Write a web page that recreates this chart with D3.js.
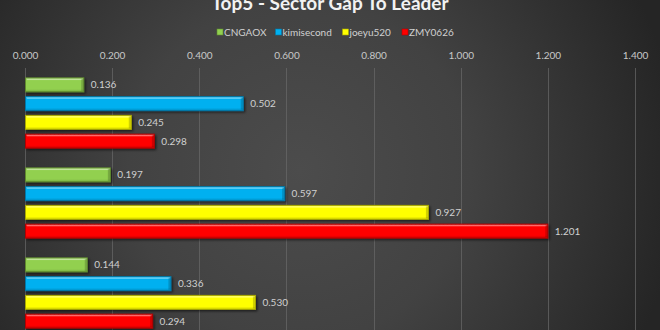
<!DOCTYPE html>
<html><head><meta charset="utf-8">
<script src="https://cdn.jsdelivr.net/npm/d3@7"></script>
<style>html,body{margin:0;padding:0;background:#2a2a2a;}svg{display:block;}</style>
</head><body>
<script>
const categories = ["Sector 1", "Sector 2", "Sector 3"];
const seriesNames = ["CNGAOX", "kimisecond", "joeyu520", "ZMY0626"];
const CNGAOX = [0.136, 0.197, 0.144];
const kimisecond = [0.502, 0.597, 0.336];
const joeyu520 = [0.245, 0.927, 0.530];
const ZMY0626 = [0.298, 1.201, 0.294];
const seriesValues = [CNGAOX, kimisecond, joeyu520, ZMY0626];
const tickValues = [0, 0.2, 0.4, 0.6, 0.8, 1.0, 1.2, 1.4];
const colors = ["#92d050", "#00b0f0", "#ffff00", "#ff0000"];
const edgeColors = ["#5e8a2e", "#0078a8", "#a8a800", "#b00000"];
const title = "Top5 - Sector Gap To Leader";

const W = 660, H = 330;
const svg = d3.select("body").append("svg").attr("width", W).attr("height", H);
const defs = svg.append("defs");
const bg = defs.append("radialGradient").attr("id", "bg")
  .attr("gradientUnits", "userSpaceOnUse").attr("cx", 300).attr("cy", 170).attr("r", 380);
bg.append("stop").attr("offset", "0%").attr("stop-color", "#4c4c4c");
bg.append("stop").attr("offset", "45%").attr("stop-color", "#424242");
bg.append("stop").attr("offset", "100%").attr("stop-color", "#252525");
svg.append("rect").attr("width", W).attr("height", H).attr("fill", "url(#bg)");

colors.forEach((c, i) => {
  const g = defs.append("linearGradient").attr("id", "bar" + i).attr("x1", 0).attr("y1", 0).attr("x2", 0).attr("y2", 1);
  const cc = d3.color(c);
  g.append("stop").attr("offset", "0%").attr("stop-color", d3.interpolateRgb(c, "#ffffff")(0.35));
  g.append("stop").attr("offset", "18%").attr("stop-color", c);
  g.append("stop").attr("offset", "80%").attr("stop-color", c);
  g.append("stop").attr("offset", "100%").attr("stop-color", cc.darker(0.6).formatHex());
});
const sh = defs.append("filter").attr("id", "shadow").attr("x", "-5%").attr("y", "-30%").attr("width", "115%").attr("height", "180%");
sh.append("feDropShadow").attr("dx", 1.5).attr("dy", 1.5).attr("stdDeviation", 1.2).attr("flood-color", "#000").attr("flood-opacity", 0.55);

const x = d3.scaleLinear().domain([0, 1.4]).range([25, 635]);
const y0 = d3.scaleBand().domain(categories).range([68, 338]).paddingInner(0).paddingOuter(0);
const y1 = d3.scaleBand().domain(seriesNames).range([0, y0.bandwidth()]).paddingInner(0.2).paddingOuter(0.5);

// gridlines
svg.append("g").selectAll("line").data(tickValues).join("line")
  .attr("x1", d => Math.round(x(d)) + 0.5).attr("x2", d => Math.round(x(d)) + 0.5)
  .attr("y1", 68).attr("y2", 338)
  .attr("stroke", "#6a6a6a").attr("stroke-width", 1).attr("stroke-opacity", 0.7);

// top axis
const axis = d3.axisTop(x).tickValues(tickValues).tickFormat(d3.format(".3f")).tickSize(0).tickPadding(0);
const ax = svg.append("g").attr("transform", "translate(0,59)").call(axis);
ax.select(".domain").remove();
ax.selectAll("text").attr("fill", "#c8c8c8").attr("font-family", "Lato, sans-serif").attr("font-size", 10);

// title
svg.append("text").attr("x", 330).attr("y", 9.5).attr("text-anchor", "middle")
  .attr("fill", "#f2f2f2").attr("font-family", "Lato, sans-serif").attr("font-weight", "bold")
  .attr("font-size", 19).text(title);

// legend
const legendX = [217, 275.5, 342.5, 402];
const lg = svg.append("g");
seriesNames.forEach((n, i) => {
  lg.append("rect").attr("x", legendX[i]).attr("y", 29).attr("width", 6).attr("height", 6)
    .attr("fill", colors[i]).attr("stroke", edgeColors[i]).attr("stroke-width", 0.6);
  lg.append("text").attr("x", legendX[i] + 7).attr("y", 35.5).attr("fill", "#d0d0d0")
    .attr("font-family", "Lato, sans-serif").attr("font-size", 10).text(n);
});

// bars
const rows = [];
categories.forEach((c, ci) => seriesNames.forEach((s, si) => rows.push({ c, s, si, v: seriesValues[si][ci] })));
const bars = svg.append("g");
const bh = y1.bandwidth();
rows.forEach(d => {
  const yy = y0(d.c) + y1(d.s);
  const g = bars.append("g");
  g.append("rect").attr("x", x(0) + 0.5).attr("y", yy + 0.5).attr("width", x(d.v) - x(0) - 1).attr("height", bh - 1)
    .attr("fill", `url(#bar${d.si})`).attr("stroke", edgeColors[d.si]).attr("stroke-width", 1)
    .attr("filter", "url(#shadow)");
  // top highlight line
  g.append("rect").attr("x", x(0) + 2).attr("y", yy + 1.5).attr("width", Math.max(0, x(d.v) - x(0) - 4)).attr("height", 1.2)
    .attr("fill", "#ffffff").attr("opacity", 0.35);
  // right bevel
  g.append("rect").attr("x", x(d.v) - 3).attr("y", yy + 1.5).attr("width", 2).attr("height", bh - 3)
    .attr("fill", "#000").attr("opacity", 0.18);
  svg.append("text").attr("x", x(d.v) + 6.5).attr("y", yy + bh / 2 + 3.5)
    .attr("fill", "#d0d0d0").attr("font-family", "Lato, sans-serif").attr("font-size", 10)
    .text(d3.format(".3f")(d.v));
});
</script>
</body></html>
